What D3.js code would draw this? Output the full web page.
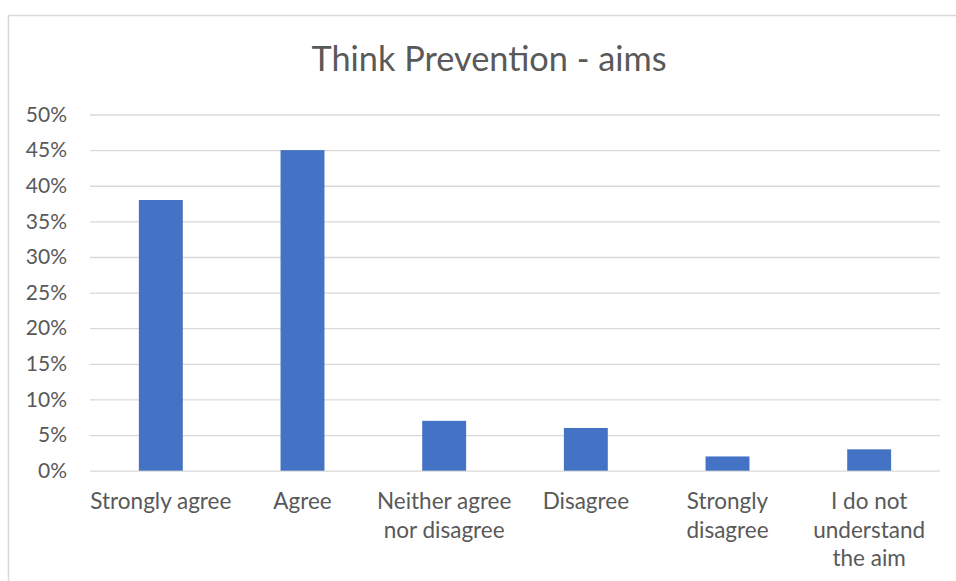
<!DOCTYPE html>
<html>
<head>
<meta charset="utf-8">
<script src="https://cdn.jsdelivr.net/npm/d3@7"></script>
<style>
  html, body { margin: 0; padding: 0; background: #fff; }
  svg { display: block; }
  text { font-family: Lato, "Open Sans", sans-serif; fill: #595959; }
</style>
</head>
<body>
<svg id="chart" width="956" height="581"></svg>
<script>
// Survey responses: share of respondents per answer
const categories = [
  "Strongly agree",
  "Agree",
  "Neither agree nor disagree",
  "Disagree",
  "Strongly disagree",
  "I do not understand the aim"
];
const values = [0.38, 0.45, 0.07, 0.06, 0.02, 0.03];
const categoryLines = [
  ["Strongly agree"],
  ["Agree"],
  ["Neither agree", "nor disagree"],
  ["Disagree"],
  ["Strongly", "disagree"],
  ["I do not", "understand", "the aim"]
];
const yTicks = [0, 0.05, 0.10, 0.15, 0.20, 0.25, 0.30, 0.35, 0.40, 0.45, 0.50];
const title = "Think Prevention - aims";

const svg = d3.select("#chart");
const plot = { left: 90, right: 940, top: 114.5, bottom: 470.7 };

// Chart frame (only the top and left edges fall inside the page)
svg.append("rect")
  .attr("x", 8.5).attr("y", 15.5)
  .attr("width", 1000).attr("height", 1000)
  .attr("fill", "#fff")
  .attr("stroke", "#d9d9d9").attr("stroke-width", 1.5);

svg.append("text")
  .attr("x", 489).attr("y", 71)
  .attr("text-anchor", "middle")
  .attr("font-size", 34.3)
  .text(title);

const x = d3.scaleBand()
  .domain(categories)
  .range([plot.left, plot.right])
  .paddingInner(0.69)
  .paddingOuter(0.345);

const y = d3.scaleLinear()
  .domain([0, 0.5])
  .range([plot.bottom, plot.top]);

// Horizontal gridlines and percentage labels
const yAxis = d3.axisLeft(y)
  .tickValues(yTicks)
  .tickFormat(d3.format(".0%"))
  .tickSize(-(plot.right - plot.left))
  .tickPadding(23);

const gy = svg.append("g")
  .attr("transform", `translate(${plot.left},0)`)
  .call(yAxis);
gy.select(".domain").remove();
gy.selectAll(".tick line").attr("stroke", "#d9d9d9").attr("stroke-width", 1.3);
gy.selectAll(".tick text")
  .attr("font-size", 21)
  .attr("fill", "#595959")
  .attr("font-family", "Lato, 'Open Sans', sans-serif");

// Bars
svg.append("g").selectAll("rect")
  .data(values)
  .join("rect")
  .attr("x", (d, i) => x(categories[i]))
  .attr("width", x.bandwidth())
  .attr("y", d => y(d))
  .attr("height", d => y(0) - y(d))
  .attr("fill", "#4472c4");

// Category labels under the axis, wrapped onto lines
const xAxis = d3.axisBottom(x).tickSize(0).tickFormat("");
const gx = svg.append("g")
  .attr("transform", `translate(0,${plot.bottom})`)
  .call(xAxis);
gx.select(".domain").remove();

const labels = svg.append("g").selectAll("text")
  .data(categories)
  .join("text")
  .attr("text-anchor", "middle")
  .attr("font-size", 22.5)
  .attr("x", d => x(d) + x.bandwidth() / 2)
  .attr("y", 509);

labels.each(function (d, i) {
  const t = d3.select(this);
  categoryLines[i].forEach((line, j) => {
    t.append("tspan")
      .attr("x", x(d) + x.bandwidth() / 2)
      .attr("dy", j === 0 ? 0 : 28.7)
      .text(line);
  });
});
</script>
</body>
</html>
